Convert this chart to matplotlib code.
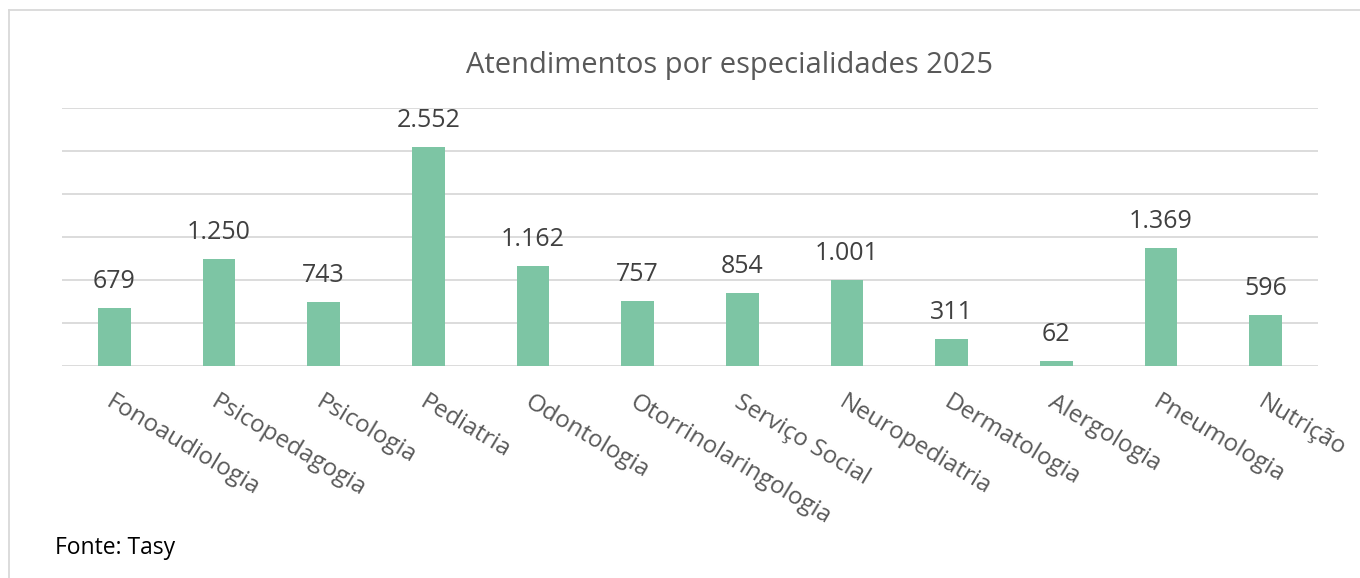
import matplotlib.pyplot as plt
from matplotlib.lines import Line2D
import numpy as np

plt.rcParams['font.family'] = ['Open Sans', 'DejaVu Sans']

especialidades = ["Fonoaudiologia", "Psicopedagogia", "Psicologia", "Pediatria",
                  "Odontologia", "Otorrinolaringologia", "Serviço Social",
                  "Neuropediatria", "Dermatologia", "Alergologia", "Pneumologia",
                  "Nutrição"]
atendimentos = [679, 1250, 743, 2552, 1162, 757, 854, 1001, 311, 62, 1369, 596]
rotulos = ["679", "1.250", "743", "2.552", "1.162", "757", "854", "1.001",
           "311", "62", "1.369", "596"]

fig = plt.figure(figsize=(13.6, 5.78), dpi=100)
ax = fig.add_axes([62/1360, 1-366/578, (1318-62)/1360, (366-108)/578])

x = np.arange(len(especialidades))
bars = ax.bar(x, atendimentos, width=0.31, color="#7dc5a4", zorder=3)

ax.set_xlim(-0.5, len(especialidades) - 0.5)
ax.set_ylim(0, 3000)
ax.set_yticks(np.arange(0, 3001, 500))
ax.yaxis.grid(True, color="#d9d9d9", linewidth=1.3, zorder=0)
ax.tick_params(axis='y', left=False, labelleft=False)
ax.tick_params(axis='x', bottom=False, pad=14)
for s in ax.spines.values():
    s.set_visible(False)

ax.set_xticks(x)
ax.set_xticklabels(especialidades, rotation=-31, ha='left', va='top',
                   rotation_mode='anchor', fontsize=17.5, color="#595959")

for b, t in zip(bars, rotulos):
    ax.annotate(t, (b.get_x() + b.get_width()/2, b.get_height()),
                xytext=(0, 10), textcoords='offset points',
                ha='center', va='bottom', fontsize=18, color="#404040")

fig.text(729/1360, 1-65/578, "Atendimentos por especialidades 2025", ha='center',
         va='center', fontsize=21, color="#595959")
fig.text(55/1360, 1-548/578, "Fonte: Tasy", ha='left', va='center',
         fontsize=16.5, color="#000000")

# moldura do gráfico (só aparecem borda esquerda e superior)
fig.add_artist(Line2D([9/1360, 9/1360], [0, 1-10/578], color="#d9d9d9", lw=1.3))
fig.add_artist(Line2D([9/1360, 1], [1-10/578, 1-10/578], color="#d9d9d9", lw=1.3))

fig.savefig("out.png", dpi=100, facecolor="white")
